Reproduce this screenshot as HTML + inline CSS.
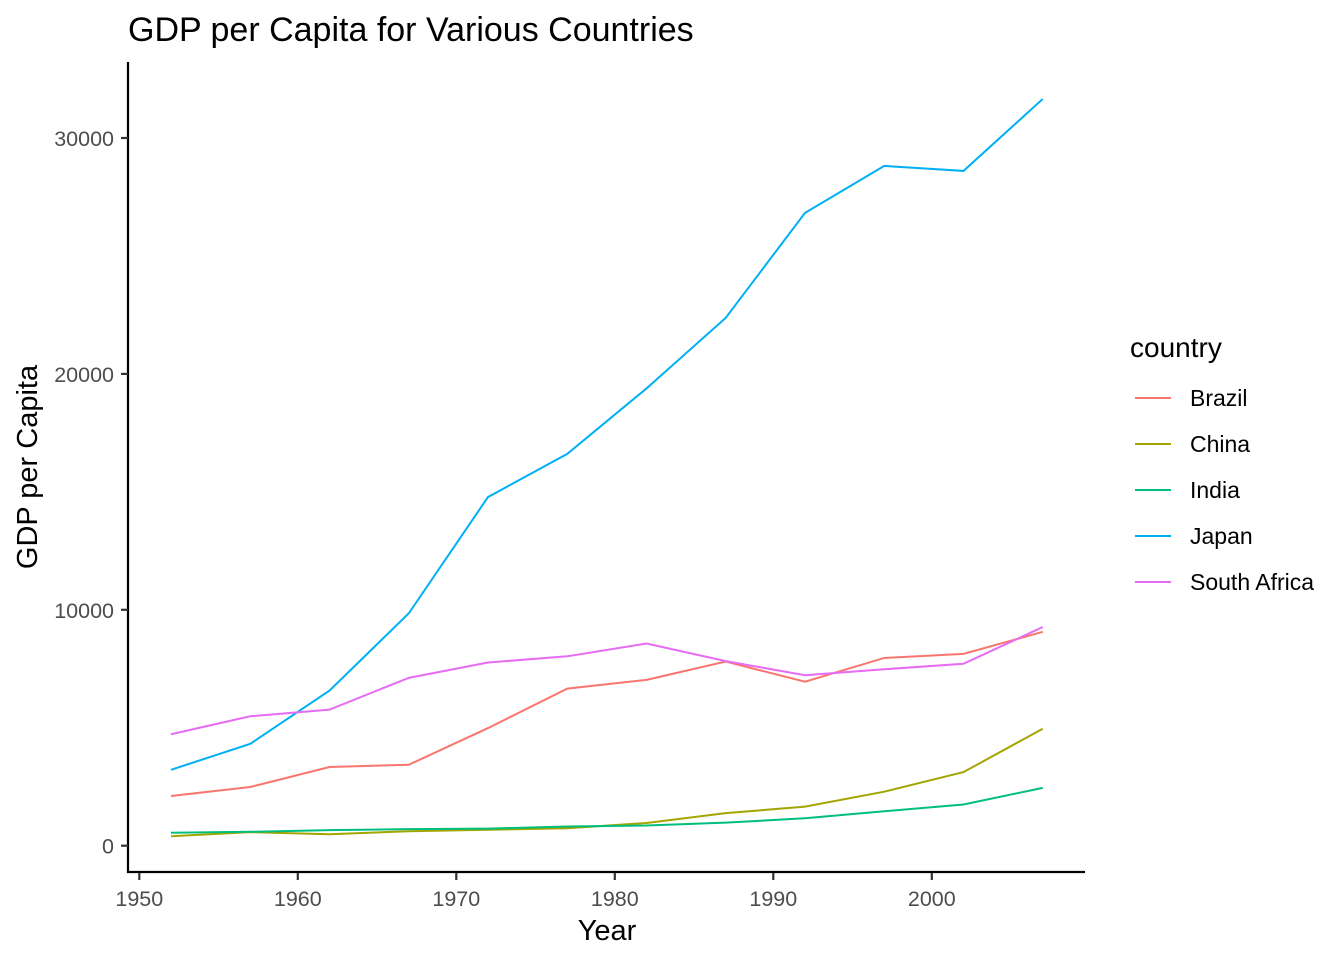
<!DOCTYPE html>
<html><head><meta charset="utf-8"><style>
body{margin:0;background:#fff;font-family:"Liberation Sans",sans-serif}
</style></head><body>
<svg id="c" width="1344" height="960" xmlns="http://www.w3.org/2000/svg">
<text x="128" y="41" font-size="34" fill="#000">GDP per Capita for Various Countries</text>
<line x1="128" y1="62" x2="128" y2="873" stroke="#000" stroke-width="2.2"/>
<line x1="127" y1="872" x2="1085" y2="872" stroke="#000" stroke-width="2.2"/>
<text x="607" y="940" font-size="29" text-anchor="middle">Year</text>
<text transform="translate(37,467) rotate(-90)" font-size="29" text-anchor="middle">GDP per Capita</text>
<g id="ticks"></g><g id="lines"></g><g id="legend"></g>
</svg>
<script>
const years=[1952,1957,1962,1967,1972,1977,1982,1987,1992,1997,2002,2007];
const countries=["Brazil","China","India","Japan","South Africa"];
const colors=["#F8766D","#A3A500","#00BF7D","#00B0F6","#E76BF3"];
const brazil=[2108.9,2487.4,3336.6,3429.9,4985.7,6660.1,7030.8,7807.1,6950.3,7958.0,8131.2,9065.8];
const china=[400.4,576.0,487.7,612.7,676.9,741.2,962.4,1378.9,1655.8,2289.2,3119.3,4959.1];
const india=[546.6,590.1,658.3,700.8,724.0,813.3,855.7,976.5,1164.4,1458.8,1746.8,2452.2];
const japan=[3217.0,4317.7,6576.6,9847.8,14778.8,16610.4,19384.1,22375.9,26824.9,28816.6,28604.6,31656.1];
const southAfrica=[4725.3,5487.1,5768.7,7114.5,7766.0,8028.7,8568.3,7825.8,7225.1,7479.2,7710.9,9269.7];
const xTicks=[1950,1960,1970,1980,1990,2000];
const yTicks=[0,10000,20000,30000];
const series=[brazil,china,india,japan,southAfrica];
const NS="http://www.w3.org/2000/svg";
const x=v=>139.3+(v-1950)*15.85;
const y=v=>845.7-v*0.02359;
function mk(t,a,p){const e=document.createElementNS(NS,t);for(const k in a)e.setAttribute(k,a[k]);p.appendChild(e);return e;}
const tg=document.getElementById('ticks');
xTicks.forEach(t=>{
 const l=mk('line',{x1:x(t),x2:x(t),y1:873,y2:880,stroke:'#333','stroke-width':2.2},tg);
 
 
 const s=mk('text',{x:x(t),y:906,'font-size':21.5,fill:'#4d4d4d','text-anchor':'middle'},tg);s.textContent=t;
 
 
});
yTicks.forEach(t=>{
 const l=mk('line',{x1:121,x2:128,y1:y(t),y2:y(t),stroke:'#333','stroke-width':2.2},tg);
 
 
 const s=mk('text',{x:114,y:y(t)+8,'font-size':21.5,fill:'#4d4d4d','text-anchor':'end'},tg);s.textContent=t;
 
 
});
const lg=document.getElementById('lines');
series.forEach((d,i)=>{
 const p=mk('polyline',{points:d.map((v,j)=>x(years[j])+','+y(v)).join(' '),fill:'none',stroke:colors[i],'stroke-width':2},lg);
 
 
});
const leg=document.getElementById('legend');
const lt=mk('text',{x:1130,y:357,'font-size':28},leg);lt.textContent='country';


countries.forEach((c,i)=>{
 const yy=398+i*46;
 const l=mk('line',{x1:1135,x2:1171,y1:yy,y2:yy,stroke:colors[i],'stroke-width':2},leg);
 
 
 const t=mk('text',{x:1190,y:yy+8,'font-size':23},leg);t.textContent=c;
 
 
});
</script>
</body></html>
